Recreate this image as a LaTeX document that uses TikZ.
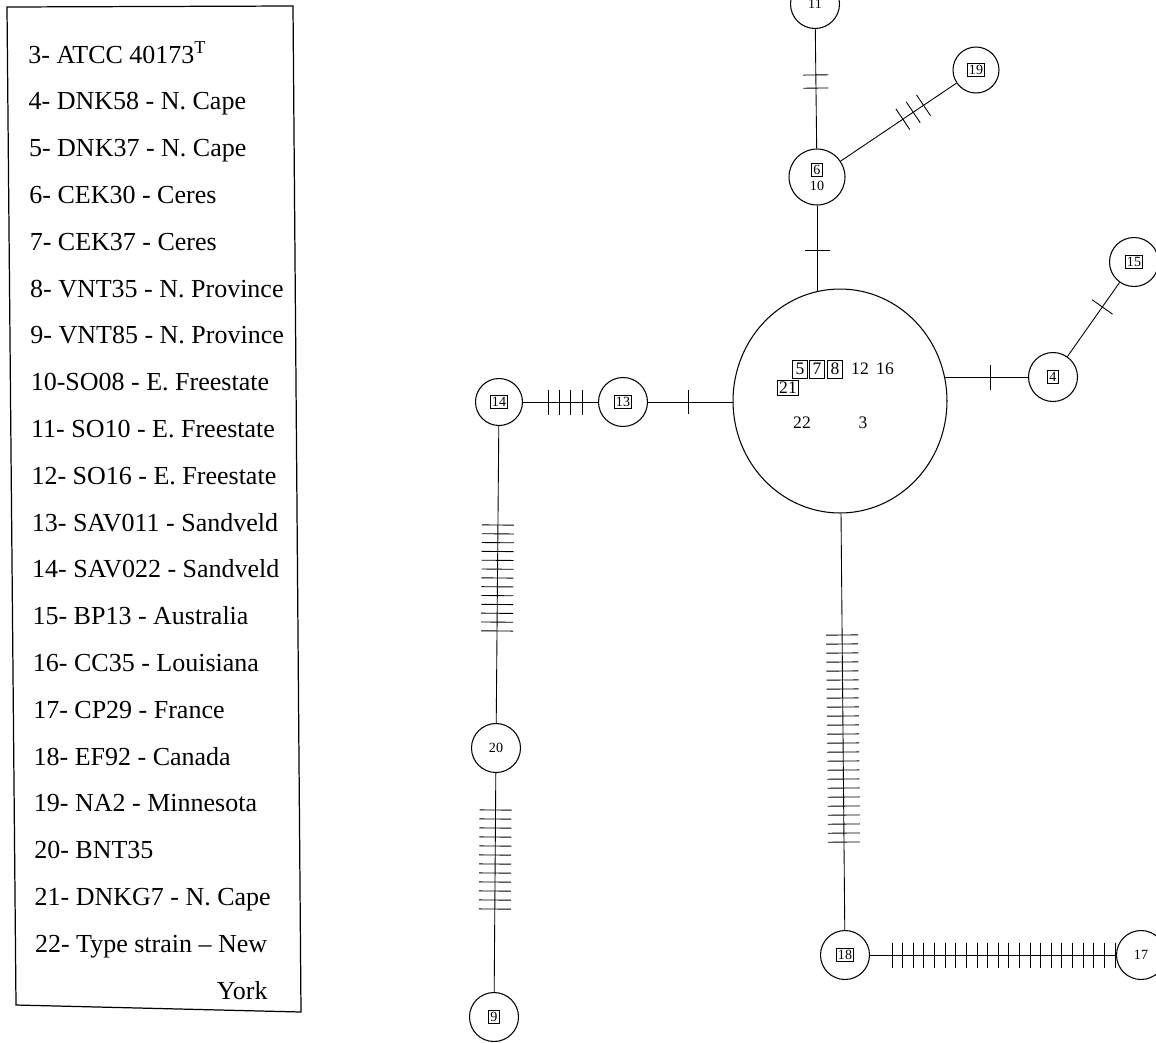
\documentclass[tikz,border=0pt]{standalone}
\usepackage{fontspec}
\setmainfont{Liberation Serif}
\usepackage{tikz}
\usetikzlibrary{calc}
\usetikzlibrary{shapes.geometric,positioning}
\usetikzlibrary{backgrounds}
\newcommand{\bx}[1]{{\setlength{\fboxsep}{0.8pt}\setlength{\fboxrule}{0.4pt}\fbox{#1}}}
\newcommand{\bbx}[1]{{\setlength{\fboxsep}{1.6pt}\setlength{\fboxrule}{0.4pt}\fbox{#1}}}
\tikzset{
    hap/.style={
        circle,
        draw,
        line width=0.6pt,
        fill=white,
        minimum size=0.98cm,
        inner sep=0pt,
        font=\fontsize{8}{9}\selectfont
    },
    % central haplotype
    bighap/.style={
        ellipse,
        draw,
        line width=0.6pt,
        fill=white,
        minimum width=4.28cm,
        minimum height=4.48cm,
        inner sep=0pt
    },
    link/.style={line width=0.5pt},
    mut/.style={line width=0.5pt},
    legtext/.style={anchor=base west, inner sep=0pt, font=\fontsize{14.8}{16}\selectfont}
}

\begin{document}
\begin{tikzpicture}[x=0.02cm,y=-0.02cm]
\useasboundingbox (0,0) rectangle (1156,1042);

% ===================== legend =====================
\draw[line width=0.7pt] (7,7) -- (293,6) -- (301,1012) -- (16,1005) -- cycle;
\foreach \t [count=\k from 0] in {3- ATCC 40173\textsuperscript{T}, 4- DNK58 - N. Cape,
    5- DNK37 - N. Cape, 6- CEK30 - Ceres, 7- CEK37 - Ceres, 8- VNT35 - N. Province,
    9- VNT85 - N. Province, 10-SO08 - E. Freestate, 11- SO10 - E. Freestate,
    12- SO16 - E. Freestate, 13- SAV011 - Sandveld, 14- SAV022 - Sandveld,
    15- BP13 - Australia, 16- CC35 - Louisiana, 17- CP29 - France, 18- EF92 - Canada,
    19- NA2 - Minnesota, 20- BNT35, 21- DNKG7 - N. Cape, 22- Type strain -- New}
  \node[legtext] (leg\k) at ({28+0.35*\k},{63+46.8*\k}) {\t};
\node[legtext, anchor=base east] (leg20) at (268,999) {York};

% ===================== haplotypes =====================
\node[hap] (n11) at (815,4) {11};
\node[hap, minimum size=0.92cm] (n19) at (976,70) {\bx{19}};
\node[hap, minimum size=1.12cm, align=center] (n610) at (817,177) {\bx{6}\\[0pt]10};
\node[bighap] (big) at (840,401) {};
\node[hap] (n15) at (1134,262) {\bx{15}};
\node[hap] (n4) at (1053,377) {\bx{4}};
\node[hap] (n13) at (623,402) {\bx{13}};
\node[hap, minimum size=0.94cm] (n14) at (499,402) {\bx{14}};
\node[hap] (n20) at (496,748) {20};
\node[hap] (n9) at (494,1017) {\bx{9}};
\node[hap] (n18) at (845,955) {\bx{18}};
\node[hap] (n17) at (1141,955) {17};

% strains in the central circle
\begin{scope}[every node/.style={inner sep=0pt, font=\fontsize{10}{12}\selectfont}]
  \node (h5) at ($(big)+(-40,-32)$) {\bbx{5}};
  \node (h7) at ($(big)+(-23,-32)$) {\bbx{7}};
  \node (h8) at ($(big)+(-5,-32)$) {\bbx{8}};
  \node (h12) at ($(big)+(20,-32)$) {12};
  \node (h16) at ($(big)+(45,-32)$) {16};
  \node (h21) at ($(big)+(-52,-13)$) {\bx{21}};
  \node (h22) at ($(big)+(-38,22)$) {22};
  \node (h3) at ($(big)+(23,22)$) {3};
\end{scope}

\coordinate (c610) at (n610 |- big);
\coordinate (c4) at (n4 -| big);
\coordinate (c13) at (n13 -| big);

% ===================== links =====================
\begin{scope}[on background layer]
  \draw[link] (n11) -- (n610);
  \draw[link] (n610) -- (n19);
  \draw[link] (n610) -- (c610);
  \draw[link] (c4) -- (n4);
  \draw[link] (n4) -- (n15);
  \draw[link] (n14) -- (n13);
  \draw[link] (n13) -- (c13);
  \draw[link] (n14) -- (n20);
  \draw[link] (n20) -- (n9);
  \draw[link] (big) -- (n18);
  \draw[link] (n18) -- (n17);
\end{scope}

% mutation steps
\foreach \p in {0.41,0.486}
  \draw[mut] ($(n11)!\p!(n610)!0.25cm!90:(n610)$) -- ($(n11)!\p!(n610)!0.25cm!-90:(n610)$);
\foreach \p in {0.326}
  \draw[mut] ($(n610)!\p!(c610)!0.25cm!90:(c610)$) -- ($(n610)!\p!(c610)!0.25cm!-90:(c610)$);
\foreach \p in {0.54,0.605,0.67}
  \draw[mut] ($(n610)!\p!(n19)!0.25cm!90:(n19)$) -- ($(n610)!\p!(n19)!0.25cm!-90:(n19)$);
\foreach \p in {0.704}
  \draw[mut] ($(c4)!\p!(n4)!0.25cm!90:(n4)$) -- ($(c4)!\p!(n4)!0.25cm!-90:(n4)$);
\foreach \p in {0.609}
  \draw[mut] ($(n4)!\p!(n15)!0.25cm!90:(n15)$) -- ($(n4)!\p!(n15)!0.25cm!-90:(n15)$);
\foreach \p in {0.30}
  \draw[mut] ($(n13)!\p!(c13)!0.24cm!90:(c13)$) -- ($(n13)!\p!(c13)!0.24cm!-90:(c13)$);
\foreach \p in {0.395,0.484,0.573,0.669}
  \draw[mut] ($(n14)!\p!(n13)!0.25cm!90:(n13)$) -- ($(n14)!\p!(n13)!0.25cm!-90:(n13)$);
\foreach \k in {0,...,12}
  \draw[mut] ($(n14)!{0.3555+0.02552*\k}!(n20)!0.32cm!90:(n20)$) -- ($(n14)!{0.3555+0.02552*\k}!(n20)!0.32cm!-90:(n20)$);
\foreach \k in {0,...,11}
  \draw[mut] ($(n20)!{0.2305+0.03346*\k}!(n9)!0.32cm!90:(n9)$) -- ($(n20)!{0.2305+0.03346*\k}!(n9)!0.32cm!-90:(n9)$);
\foreach \k in {0,...,23}
  \draw[mut] ($(big)!{0.4224+0.01625*\k}!(n18)!0.32cm!90:(n18)$) -- ($(big)!{0.4224+0.01625*\k}!(n18)!0.32cm!-90:(n18)$);
\foreach \k in {0,...,21}
  \draw[mut] ($(n18)!{0.1588+0.03588*\k}!(n17)!0.25cm!90:(n17)$) -- ($(n18)!{0.1588+0.03588*\k}!(n17)!0.25cm!-90:(n17)$);

\end{tikzpicture}
\end{document}
